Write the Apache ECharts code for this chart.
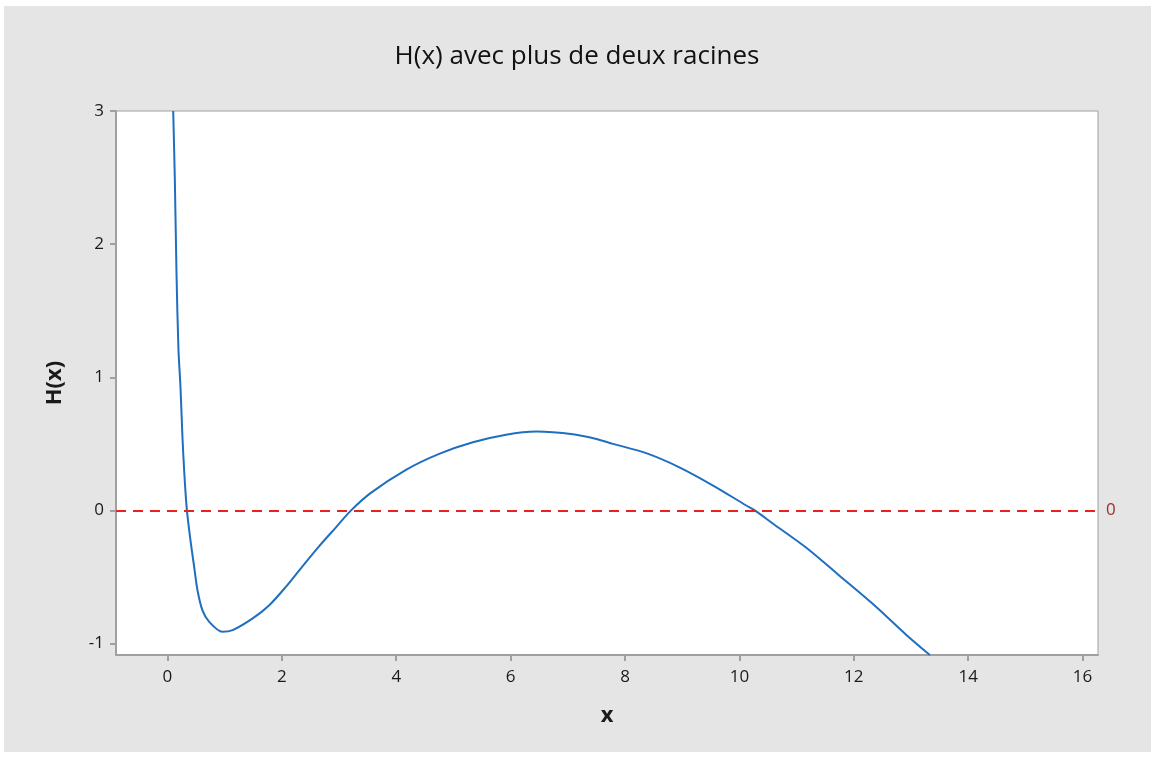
<!DOCTYPE html>
<html>
<head>
<meta charset="utf-8">
<script src="https://cdn.jsdelivr.net/npm/echarts@6/dist/echarts.min.js"></script>
<style>
  html, body { margin: 0; padding: 0; background: #ffffff; }
  #frame { position: absolute; left: 4px; top: 6px; width: 1147px; height: 746px; background: #e5e5e5; }
  #chart { position: absolute; left: 0; top: 0; width: 1154px; height: 758px; }
</style>
</head>
<body>
<div id="frame"></div>
<div id="chart"></div>
<script>
const titleText = 'H(x) avec plus de deux racines';
const xName = 'x';
const yName = 'H(x)';
const xTicks = [0, 2, 4, 6, 8, 10, 12, 14, 16];
const yTicks = [-1, 0, 1, 2, 3];
const refLineValue = 0;
const xValues = [0.10, 0.129, 0.158, 0.192, 0.227, 0.262, 0.297, 0.34, 0.41, 0.467, 0.525, 0.61, 0.73, 0.96, 1.14, 1.49, 1.78, 2.07, 2.36, 2.65, 2.95, 3.21, 3.55, 4.17, 4.75, 5.34, 5.92, 6.45, 7.09, 7.50, 7.79, 8.37, 8.95, 9.54, 10.12, 10.27, 10.59, 11.17, 11.75, 12.34, 12.92, 13.33];
const hValues = [3.0, 2.48, 1.78, 1.21, 0.93, 0.55, 0.26, 0, -0.25, -0.425, -0.60, -0.749, -0.837, -0.912, -0.899, -0.811, -0.712, -0.574, -0.42, -0.27, -0.125, 0, 0.13, 0.305, 0.425, 0.512, 0.569, 0.592, 0.572, 0.537, 0.50, 0.43, 0.324, 0.187, 0.037, 0, -0.10, -0.28, -0.49, -0.705, -0.935, -1.086];

const chart = echarts.init(document.getElementById('chart'), null, { renderer: 'canvas' });
const font = '"Open Sans", "DejaVu Sans", sans-serif';
chart.setOption({
  backgroundColor: 'transparent',
  animation: false,
  title: {
    text: titleText,
    left: 'center',
    top: 39,
    textStyle: { fontFamily: font, fontSize: 26, fontWeight: 'normal', color: '#111111' }
  },
  grid: {
    left: 116, top: 111, right: 56, bottom: 103,
    show: true, backgroundColor: '#ffffff', borderColor: '#a0a0a0', borderWidth: 1
  },
  xAxis: {
    type: 'value', min: -0.9, max: 16.27,
    name: xName, nameLocation: 'middle', nameGap: 50,
    nameTextStyle: { fontFamily: font, fontSize: 22, fontWeight: 'bold', color: '#1a1a1a' },
    axisLine: { show: true, onZero: false, lineStyle: { color: '#a0a0a0', width: 2 } },
    axisTick: { show: true, customValues: xTicks, length: 6, lineStyle: { color: '#a0a0a0', width: 2 } },
    axisLabel: { customValues: xTicks, margin: 14, fontFamily: font, fontSize: 17, color: '#1a1a1a' },
    splitLine: { show: false }
  },
  yAxis: {
    type: 'value', min: -1.086, max: 3,
    name: yName, nameLocation: 'middle', nameGap: 50, nameRotate: 90,
    nameTextStyle: { fontFamily: font, fontSize: 22, fontWeight: 'bold', color: '#1a1a1a' },
    axisLine: { show: true, onZero: false, lineStyle: { color: '#a0a0a0', width: 2 } },
    axisTick: { show: true, customValues: yTicks, length: 6, lineStyle: { color: '#a0a0a0', width: 2 } },
    axisLabel: { customValues: yTicks, margin: 12, fontFamily: font, fontSize: 17, color: '#1a1a1a' },
    splitLine: { show: false }
  },
  series: [{
    type: 'line',
    data: xValues.map((x, i) => [x, hValues[i]]),
    showSymbol: false,
    smooth: 0.3,
    clip: true,
    lineStyle: { color: '#1f6fc0', width: 2 },
    markLine: {
      silent: true,
      symbol: ['none', 'none'],
      data: [{ yAxis: refLineValue }],
      lineStyle: { color: '#e8231e', type: [10, 7], width: 2 },
      label: { show: true, position: 'end', formatter: String(refLineValue), distance: 8,
               fontFamily: font, fontSize: 17, color: '#9b2d2d' }
    }
  }]
});
</script>
</body>
</html>
